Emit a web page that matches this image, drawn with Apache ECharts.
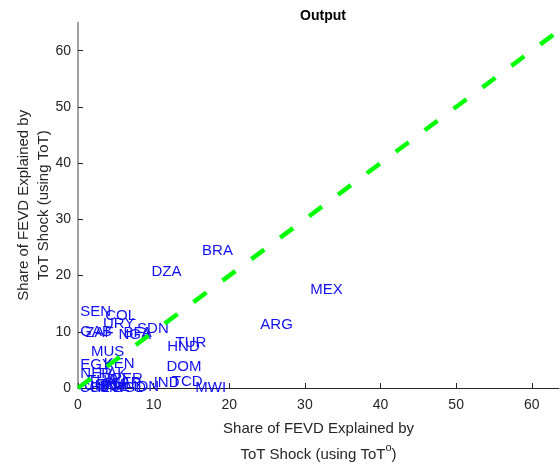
<!DOCTYPE html>
<html>
<head>
<meta charset="utf-8">
<script src="https://cdn.jsdelivr.net/npm/echarts@6/dist/echarts.min.js"></script>
<style>html,body{margin:0;padding:0;background:#fff}#c{width:560px;height:465px}</style>
</head>
<body>
<div id="c"></div>
<script>
// Country codes and their (x, y) values
var countries = ['BRA','DZA','MEX','ARG','TUR','HND','DOM','TCD','MWI','IND','IDN',
  'SEN','COL','URY','SDN','GAB','ZAF','NGA','BFA','MUS','EGY','KEN','NER','PAK','MAR',
  'THA','PER','PHL','CHL','CHN','CMR','GHA','BOL','BGD'];
var xValues = [16.4, 9.7, 30.7, 24.1, 12.9, 11.8, 11.7, 12.4, 15.5, 10.0, 7.3,
  0.3, 3.6, 3.3, 7.8, 0.3, 0.95, 5.35, 6.0, 1.7, 0.3, 3.4, 0.3, 2.7, 4.0,
  1.2, 4.5, 3.5, 0.2, 0.8, 1.5, 2.2, 2.8, 4.7];
var yValues = [24.4, 20.6, 17.4, 11.2, 8.0, 7.35, 3.8, 1.1, 0.1, 0.9, 0.2,
  13.6, 12.9, 11.4, 10.6, 10.0, 9.8, 9.4, 9.8, 6.45, 4.1, 4.3, 2.6, 2.6, 1.0,
  1.2, 1.6, 0.8, 0.1, 0.3, 0.0, 0.5, 0.2, 0.1];
var xTicks = [0, 10, 20, 30, 40, 50, 60];
var yTicks = [0, 10, 20, 30, 40, 50, 60];
var xMax = 63.6, yMax = 65;
var diagLine = [[0, 0], [70, 70]];

var pts = countries.map(function (c, i) { return { name: c, value: [xValues[i], yValues[i]] }; });
var font = 'Liberation Sans, Arial, Helvetica, sans-serif';
var chart = echarts.init(document.getElementById('c'), null, { renderer: 'canvas' });
chart.setOption({
  animation: false,
  title: {
    text: 'Output', left: 318, top: 4, textAlign: 'center',
    textStyle: { fontFamily: font, fontSize: 14, fontWeight: 'bold', color: '#000' }
  },
  grid: { left: 78, right: 1, top: 22.6, bottom: 77, containLabel: false, outerBoundsMode: 'none' },
  xAxis: {
    type: 'value', min: 0, max: xMax,
    name: 'Share of FEVD Explained by\nToT Shock (using ToT{sup|o})',
    nameLocation: 'middle', nameGap: 28, nameMoveOverlap: false,
    nameTextStyle: {
      fontFamily: font, fontSize: 15, color: '#262626', lineHeight: 26,
      rich: { sup: { fontFamily: font, fontSize: 11, color: '#262626', verticalAlign: 'top', padding: [0, 0, 10, 0] } }
    },
    axisLine: { show: true, lineStyle: { color: '#262626', width: 1 } },
    axisTick: { show: true, inside: true, length: 5, customValues: xTicks, lineStyle: { color: '#262626' } },
    axisLabel: { customValues: xTicks, fontFamily: font, fontSize: 14, color: '#262626', margin: 10 },
    splitLine: { show: false }
  },
  yAxis: {
    type: 'value', min: 0, max: yMax,
    name: 'Share of FEVD Explained by\nToT Shock (using ToT)',
    nameLocation: 'middle', nameGap: 24, nameRotate: 90, nameMoveOverlap: false,
    nameTextStyle: { fontFamily: font, fontSize: 15, color: '#262626', lineHeight: 20 },
    axisLine: { show: true, lineStyle: { color: '#808080', width: 1.5 } },
    axisTick: { show: true, inside: true, length: 5, customValues: yTicks, lineStyle: { color: '#262626' } },
    axisLabel: { customValues: yTicks, fontFamily: font, fontSize: 14, color: '#262626', margin: 7 },
    splitLine: { show: false }
  },
  series: [
    {
      type: 'scatter', data: pts, symbolSize: 0.1, clip: false,
      itemStyle: { color: '#0000ff' },
      label: {
        show: true, formatter: '{b}', position: 'right', distance: 0,
        align: 'left', verticalAlign: 'middle', opacity: 1,
        fontFamily: font, fontSize: 15, color: '#1010f0', textBorderWidth: 0
      },
      labelLayout: { hideOverlap: false },
      z: 2
    },
    {
      type: 'line', data: diagLine, showSymbol: false, symbol: 'none', clip: true,
      lineStyle: { color: '#00ff00', width: 4.5, type: [16, 20] }, z: 10, zlevel: 1
    }
  ]
});
</script>
</body>
</html>
